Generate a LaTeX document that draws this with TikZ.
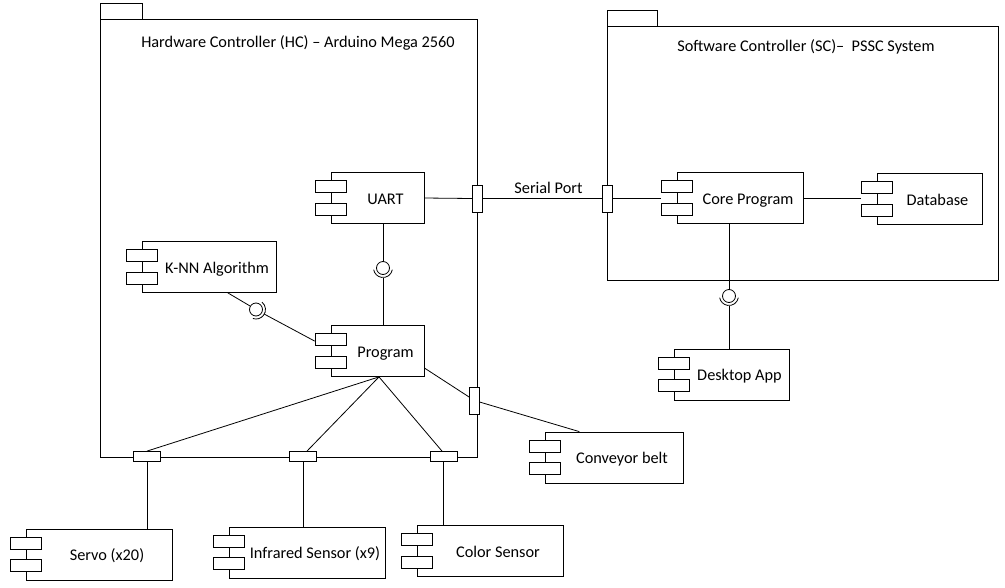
\documentclass[tikz,border=0pt]{standalone}
\usepackage{fontspec}
\setmainfont{Carlito}
\usetikzlibrary{calc}
\newcommand{\compicons}[1]{%
  \node[icon] (#1-a) at ($(#1.north west)+(0,14.5)$) {};
  \node[icon] (#1-b) at ($(#1.south west)+(0,-15)$) {};
}
\begin{document}
\begin{tikzpicture}[x=1pt,y=-1pt,
  line width=0.8pt,
  every node/.style={font=\fontsize{16.3}{19}\selectfont},
  comp/.style={draw, fill=white, inner sep=0pt, minimum height=51pt, text height=12.4pt, text depth=0pt},
  icon/.style={draw, fill=white, inner sep=0pt, minimum width=31pt, minimum height=12pt},
  port/.style={draw, fill=white, inner sep=0pt},
  vport/.style={port, minimum width=10pt, minimum height=27pt},
  hport/.style={port, minimum width=27pt, minimum height=10pt},
  ball/.style={draw, fill=white, circle, inner sep=0pt, minimum size=13pt},
  pkg/.style={draw, inner sep=0pt}
]
\useasboundingbox (0,0) rectangle (1005,587);
% packages
\node[pkg, minimum width=377pt, minimum height=438pt] (hc) at (288.5,238) {};
\draw (100,3) rectangle (142,19);
\node (hct) at (298,43) {Hardware Controller (HC) – Arduino Mega 2560};
\node[pkg, minimum width=391pt, minimum height=254pt] (sc) at (802.5,153) {};
\draw (607,10) rectangle (657,26);
\node (sct) at (806,47) {Software Controller (SC)–~ PSSC System};
% components
\node[comp, minimum width=93pt] (uart) at (377.5,198) {\hspace*{16pt}UART};
\node[comp, minimum width=126pt] (core) at (740,198) {\hspace*{16pt}Core Program};
\node[comp, minimum width=105pt] (db) at (929.5,199) {\hspace*{16pt}Database};
\node[comp, minimum width=115pt] (desk) at (731.5,374.5) {\hspace*{16pt}Desktop App};
\node[comp, minimum width=93pt] (prog) at (377.5,351) {\hspace*{16pt}Program};
\node[comp, minimum width=134pt] (knn) at (209,267) {\hspace*{16pt}K-NN Algorithm};
\node[comp, minimum width=138pt] (conv) at (614,457.5) {\hspace*{16pt}Conveyor belt};
\node[comp, minimum width=146pt] (servo) at (99,554.5) {\hspace*{16pt}Servo (x20)};
\node[comp, minimum width=156pt] (ir) at (307,552.5) {\hspace*{16pt}Infrared Sensor (x9)};
\node[comp, minimum width=146pt] (color) at (490,551) {\hspace*{16pt}Color Sensor};
\compicons{uart}
\compicons{core}
\compicons{db}
\compicons{desk}
\compicons{prog}
\compicons{knn}
\compicons{conv}
\compicons{servo}
\compicons{ir}
\compicons{color}
% ports
\node[vport] (hcr) at (477.5,198.5) {};
\node[vport] (scl) at (607.5,198.5) {};
\node[vport] (hcc) at (474.5,400.5) {};
\node[hport] (p1) at (147,456.5) {};
\node[hport] (p2) at (303,456.5) {};
\node[hport] (p3) at (443.5,456.5) {};
% balls and sockets
\node[ball] (b1) at (383,268) {};
\node[ball] (b2) at (256,309.5) {};
\node[ball] (b3) at (729,296) {};
\draw (b1.center) ++(10:9.5) arc[start angle=10, end angle=170, radius=9.5];
\draw (b2.center) ++(-51:9.5) arc[start angle=-51, end angle=109, radius=9.5];
\draw (b3.center) ++(10:9.5) arc[start angle=10, end angle=170, radius=9.5];
% connectors
\draw (b1 |- uart.south) -- (b1);
\draw ($(b1.center)+(0,9.5)$) -- (b1 |- prog.north);
\draw ($(knn.south)!0.28!(knn.south east)$) -- (b2);
\draw ($(b2.center)+(29:9.5)$) -- ($(prog-a.west)+(0,1.5)$);
\draw (b3 |- core.south) -- (b3);
\draw ($(b3.center)+(0,9.5)$) -- (b3 |- desk.north);
\draw (uart.east) -- (hcr.west);
\draw (hcr.east) -- node[pos=0.55, above, inner sep=4pt] {Serial Port} (scl.west);
\draw (scl.east) -- (core-a.west |- scl.east);
\draw (core.east) -- (db-a.west |- core.east);
\draw ($(prog.south)+(1.5,0)$) -- (p1.north);
\draw ($(prog.south)+(1.5,0)$) -- ($(p2.north)+(4,0)$);
\draw ($(prog.south)+(1.5,0)$) -- ($(p3.north)+(-1.5,0)$);
\draw ($(prog.east)+(0,17)$) -- (hcc);
\draw (hcc) -- ($(conv.north west)!0.25!(conv.north east)$);
\draw (p1.south) -- (p1 |- servo.north);
\draw (p2.south) -- (p2 |- ir.north);
\draw (p3.south) -- (p3 |- color.north);
\end{tikzpicture}
\end{document}
